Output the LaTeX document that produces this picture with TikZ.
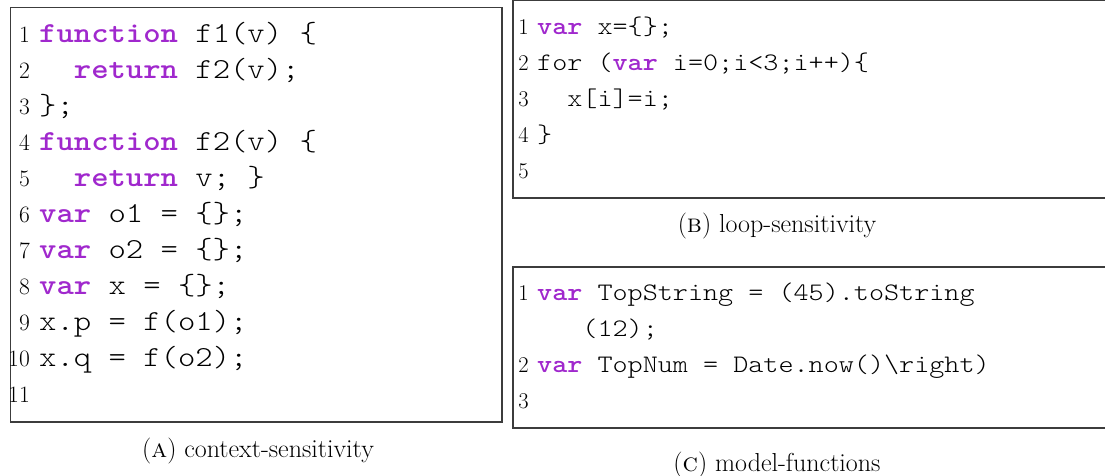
\documentclass[tikz,border=0pt]{standalone}
\usepackage{fontspec}
\usepackage{xcolor}
\newfontfamily\codefont{lmmonolt10-regular.otf}[BoldFont=lmmonolt10-bold.otf, FakeStretch=1.14]
\definecolor{kwpurple}{RGB}{160,40,205}
\definecolor{framegray}{RGB}{60,60,60}
\newcommand\kw[1]{{\bfseries\color{kwpurple}#1}}
\newcommand\ind[1]{\phantom{#1}}
\tikzset{
  listframe/.style={draw=framegray, line width=1.4pt},
  lnbig/.style={anchor=base east, inner sep=0pt, font=\fontsize{23.5}{23.5}\selectfont},
  lnsmall/.style={anchor=base east, inner sep=0pt, font=\fontsize{22.5}{22.5}\selectfont},
  codebig/.style={anchor=base west, inner sep=0pt, font=\codefont\fontsize{29}{29}\selectfont},
  codesmall/.style={anchor=base west, inner sep=0pt, font=\codefont\fontsize{25.2}{25.2}\selectfont},
  captext/.style={anchor=base, inner sep=0pt, font=\fontsize{26}{26}\selectfont},
}
\begin{document}
\begin{tikzpicture}[x=1pt,y=-1pt]
\clip (0,0) rectangle (1105,475);

% frames of the three listings
\coordinate (fa1) at (10.5,7.5);   \coordinate (fa2) at (502,422);
\coordinate (fb1) at (513,0.7);    \coordinate (fb2) at (1110,198);
\coordinate (fc1) at (513,267);    \coordinate (fc2) at (1110,428);
\draw[listframe] (fa1) rectangle (fa2);
\draw[listframe] (fb1) rectangle (fb2);
\draw[listframe] (fc1) rectangle (fc2);

% listing (A)
\node[lnbig] (na1)  at (30,42)  {1};
\node[lnbig] (na2)  at (30,78)  {2};
\node[lnbig] (na3)  at (30,114) {3};
\node[lnbig] (na4)  at (30,150) {4};
\node[lnbig] (na5)  at (30,186) {5};
\node[lnbig] (na6)  at (30,222) {6};
\node[lnbig] (na7)  at (30,258) {7};
\node[lnbig] (na8)  at (30,294) {8};
\node[lnbig] (na9)  at (30,330) {9};
\node[lnbig] (na10) at (30,366) {10};
\node[lnbig] (na11) at (30,402) {11};
\node[codebig] (ca1)  at (39,42)  {\kw{function} f1(v) \{};
\node[codebig] (ca2)  at (39,78)  {\ind{xx}\kw{return} f2(v);};
\node[codebig] (ca3)  at (39,114) {\};};
\node[codebig] (ca4)  at (39,150) {\kw{function} f2(v) \{};
\node[codebig] (ca5)  at (39,186) {\ind{xx}\kw{return} v; \}};
\node[codebig] (ca6)  at (39,222) {\kw{var} o1 = \{\};};
\node[codebig] (ca7)  at (39,258) {\kw{var} o2 = \{\};};
\node[codebig] (ca8)  at (39,294) {\kw{var} x = \{\};};
\node[codebig] (ca9)  at (39,330) {x.p = f(o1);};
\node[codebig] (ca10) at (39,366) {x.q = f(o2);};
\node[captext] (capa) at (258,457) {(\textsc{a}) context-sensitivity};

% listing (B)
\node[lnsmall] (nb1) at (529,34)  {1};
\node[lnsmall] (nb2) at (529,70)  {2};
\node[lnsmall] (nb3) at (529,106) {3};
\node[lnsmall] (nb4) at (529,142) {4};
\node[lnsmall] (nb5) at (529,178) {5};
\node[codesmall] (cb1) at (537,34)  {\kw{var} x=\{\};};
\node[codesmall] (cb2) at (537,70)  {for (\kw{var} i=0;i<3;i++)\{};
\node[codesmall] (cb3) at (537,106) {\ind{xx}x[i]=i;};
\node[codesmall] (cb4) at (537,142) {\}};
\node[captext] (capb) at (777,232) {(\textsc{b}) loop-sensitivity};

% listing (C)
\node[lnsmall] (nc1) at (529,300) {1};
\node[lnsmall] (nc2) at (529,372) {2};
\node[lnsmall] (nc3) at (529,408) {3};
\node[codesmall] (cc1)  at (537,300) {\kw{var} TopString = (45).toString};
\node[codesmall] (cc1b) at (537,336) {\ind{xxx}(12);};
\node[codesmall] (cc2)  at (537,372) {\kw{var} TopNum = Date.now()\textbackslash right)};
\node[captext] (capc) at (777,471) {(\textsc{c}) model-functions};
\end{tikzpicture}
\end{document}
